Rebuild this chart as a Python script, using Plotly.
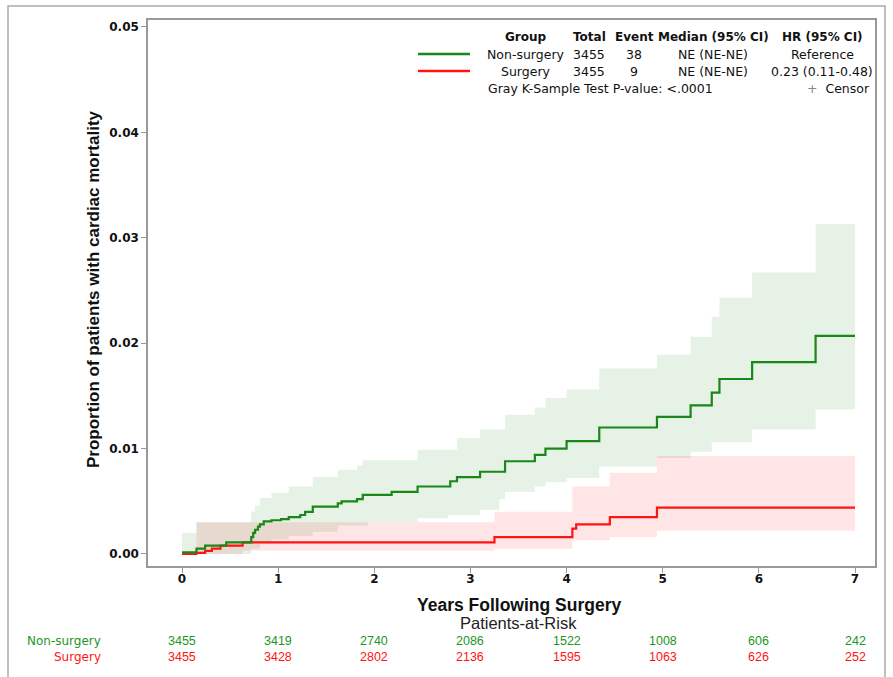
import plotly.graph_objects as go

# ---------------- data ----------------
years = [0, 1, 2, 3, 4, 5, 6, 7]
groups = ["Non-surgery", "Surgery"]
risk_nonsurg = [3455, 3419, 2740, 2086, 1522, 1008, 606, 242]
risk_surg = [3455, 3428, 2802, 2136, 1595, 1063, 626, 252]

ns_t = [0, 0.15, 0.24, 0.46, 0.72, 0.74, 0.76, 0.79, 0.81, 0.85, 0.93, 1.03, 1.11, 1.23, 1.28, 1.36,
        1.62, 1.66, 1.82, 1.88, 2.18, 2.45, 2.79, 2.86, 3.10, 3.36, 3.67, 3.78, 4.00, 4.34, 4.94,
        5.29, 5.51, 5.59, 5.93, 6.59, 7.0]
ns_cif = [0.00015, 0.0005, 0.0008, 0.0011, 0.0016, 0.0020, 0.0023, 0.0026, 0.0028, 0.0031, 0.0032,
          0.0033, 0.0035, 0.0037, 0.0040, 0.0045, 0.0048, 0.0050, 0.0052, 0.0056, 0.0059, 0.0064,
          0.0069, 0.0073, 0.0078, 0.0088, 0.0094, 0.0100, 0.0107, 0.0120, 0.0130, 0.0141, 0.0153,
          0.0166, 0.0182, 0.0207, 0.0207]

ns_up_t = [0, 0.15, 0.72, 0.76, 0.81, 0.93, 1.11, 1.36, 1.62, 1.82, 1.88, 2.45, 2.86, 3.10, 3.36,
           3.67, 3.78, 4.00, 4.34, 4.94, 5.29, 5.51, 5.59, 5.93, 6.59, 7.0]
ns_up = [0.0020, 0.0030, 0.0040, 0.0046, 0.0053, 0.0058, 0.0064, 0.0073, 0.0080, 0.0084, 0.0089,
         0.0099, 0.0110, 0.0118, 0.0132, 0.0139, 0.0148, 0.0156, 0.0176, 0.0189, 0.0206, 0.0225,
         0.0243, 0.0267, 0.0313, 0.0313]

ns_lo_t = [0, 0.72, 0.81, 0.93, 1.11, 1.36, 1.62, 1.93, 2.45, 2.77, 3.10, 3.30, 3.36, 3.67, 3.78,
           4.00, 4.34, 4.94, 5.29, 5.51, 5.93, 6.59, 7.0]
ns_lo = [0.0, 0.0005, 0.0010, 0.0014, 0.0017, 0.0021, 0.0027, 0.0030, 0.0034, 0.0037, 0.0042,
         0.0052, 0.0059, 0.0064, 0.0068, 0.0072, 0.0083, 0.0091, 0.0097, 0.0106, 0.0118, 0.0137,
         0.0137]

s_t = [0, 0.15, 0.24, 0.31, 0.40, 0.63, 3.25, 4.06, 4.10, 4.45, 4.94, 7.0]
s_cif = [0.0, 0.0001, 0.0003, 0.0005, 0.0008, 0.0011, 0.0016, 0.0024, 0.0028, 0.0035, 0.0044, 0.0044]

s_up_t = [0.15, 3.25, 4.06, 4.45, 4.94, 7.0]
s_up = [0.0030, 0.0040, 0.0064, 0.0077, 0.0093, 0.0093]
s_lo_t = [0.15, 0.63, 3.25, 4.06, 4.45, 4.94, 7.0]
s_lo = [0.0, 0.0003, 0.0005, 0.0013, 0.0016, 0.0022, 0.0022]

# ---------------- styles ----------------
GREEN = "rgb(25,135,25)"
RED = "rgb(255,20,20)"
GREEN_TXT = "rgb(30,150,30)"
GREEN_FILL = "rgba(0,128,0,0.10)"
RED_FILL = "rgba(255,0,0,0.10)"
SANS = "Liberation Sans, Arial, sans-serif"
WIDE = "DejaVu Sans, Verdana, sans-serif"

fig = go.Figure()

def band(tl, lo, tu, up, fill):
    fig.add_trace(go.Scatter(x=tl, y=lo, mode="lines", line=dict(width=0, shape="hv"),
                             hoverinfo="skip", showlegend=False))
    fig.add_trace(go.Scatter(x=tu, y=up, mode="lines", line=dict(width=0, shape="hv"),
                             fill="tonexty", fillcolor=fill, hoverinfo="skip", showlegend=False))

band(ns_lo_t, ns_lo, ns_up_t, ns_up, GREEN_FILL)
band(s_lo_t, s_lo, s_up_t, s_up, RED_FILL)

fig.add_trace(go.Scatter(x=s_t, y=s_cif, mode="lines", line=dict(color=RED, width=2.2, shape="hv"),
                         name=groups[1], showlegend=False))
fig.add_trace(go.Scatter(x=ns_t, y=ns_cif, mode="lines", line=dict(color=GREEN, width=2.2, shape="hv"),
                         name=groups[0], showlegend=False))

# ---------------- layout ----------------
W, H = 893, 677
L, R, T, B = 148, 875, 20, 566
pw, ph = R - L, B - T

def px(xp):
    return (xp - L) / pw

def py(yp):
    return (B - yp) / ph

ann = []
# Legend table
hdr_y = 37
cols = [(526, "Group"), (589, "Total"), (634, "Event"), (713, "Median (95% CI)"), (822, "HR (95% CI)")]
for x, t in cols:
    ann.append(dict(x=px(x), y=py(hdr_y), text="<b>%s</b>" % t, xanchor="center", yanchor="middle",
                    font=dict(size=12, color="#111", family=WIDE)))
rows = [
    (54, ["Non-surgery", "3455", "38", "NE (NE-NE)", "Reference"]),
    (71, ["Surgery", "3455", "9", "NE (NE-NE)", "0.23 (0.11-0.48)"]),
]
for yv, vals in rows:
    for (x, _), t in zip(cols, vals):
        ann.append(dict(x=px(x), y=py(yv), text=t, xanchor="center", yanchor="middle",
                        font=dict(size=12.5, color="#111", family=WIDE)))
ann.append(dict(x=px(486), y=py(88), text="Gray K-Sample Test P-value: <.0001", xanchor="left",
                yanchor="middle", font=dict(size=12.5, color="#111", family=WIDE)))
ann.append(dict(x=px(872), y=py(88), text="<span style='color:#888'>+</span>  Censor", xanchor="right",
                yanchor="middle", font=dict(size=12.5, color="#111", family=WIDE)))

# Axis titles / risk table
ann.append(dict(x=3.5, xref="x", y=py(605), text="<b>Years Following Surgery</b>", xanchor="center",
                yanchor="middle", font=dict(size=17.5, color="#111", family=SANS)))
ann.append(dict(x=3.5, xref="x", y=py(623), text="Patients-at-Risk", xanchor="center",
                yanchor="middle", font=dict(size=16.5, color="#222", family=SANS)))
for yr, n1, n2 in zip(years, risk_nonsurg, risk_surg):
    ann.append(dict(x=yr, xref="x", y=py(641), text=str(n1), xanchor="center", yanchor="middle",
                    font=dict(size=12.5, color=GREEN_TXT, family=SANS)))
    ann.append(dict(x=yr, xref="x", y=py(657), text=str(n2), xanchor="center", yanchor="middle",
                    font=dict(size=12.5, color=RED, family=SANS)))
ann.append(dict(x=px(103), y=py(641), text=groups[0], xanchor="right", yanchor="middle",
                font=dict(size=12, color=GREEN_TXT, family=WIDE)))
ann.append(dict(x=px(103), y=py(657), text=groups[1], xanchor="right", yanchor="middle",
                font=dict(size=12, color=RED, family=WIDE)))
ann.append(dict(x=px(93), y=py(289), text="<b>Proportion of patients with cardiac mortality</b>",
                textangle=-90, xanchor="center", yanchor="middle",
                font=dict(size=17, color="#111", family=SANS)))
for a in ann:
    a.setdefault("xref", "paper")
    a.setdefault("yref", "paper")
    a["showarrow"] = False

shapes = [
    dict(type="line", xref="paper", yref="paper", x0=px(418), x1=px(470), y0=py(54), y1=py(54),
         line=dict(color=GREEN, width=2.5)),
    dict(type="line", xref="paper", yref="paper", x0=px(418), x1=px(470), y0=py(71), y1=py(71),
         line=dict(color=RED, width=2.5)),
    dict(type="rect", xref="paper", yref="paper", x0=px(8), x1=px(885), y0=py(6), y1=py(700),
         line=dict(color="#aaaaaa", width=1.5), layer="below"),
]

tickfont = dict(size=12, color="#111", family=WIDE)
fig.update_layout(
    width=W, height=H,
    margin=dict(l=L, r=W - R, t=T, b=H - B),
    plot_bgcolor="white", paper_bgcolor="white",
    font=dict(family=SANS, size=11, color="#111"),
    annotations=ann, shapes=shapes,
    xaxis=dict(range=[-0.354, 7.208], tickvals=years, ticktext=["<b>%d</b>" % v for v in years],
               showgrid=False, zeroline=False, showline=True, linecolor="#999", linewidth=1.5,
               mirror=True, ticks="outside", ticklen=5, tickcolor="#999", tickfont=tickfont,
               ticklabelstandoff=-4),
    yaxis=dict(range=[-0.00114, 0.05066], tickvals=[0, 0.01, 0.02, 0.03, 0.04, 0.05],
               ticktext=["<b>%.2f</b>" % v for v in [0, 0.01, 0.02, 0.03, 0.04, 0.05]],
               showgrid=False, zeroline=False, showline=True, linecolor="#999", linewidth=1.5,
               mirror=True, ticks="outside", ticklen=5, tickcolor="#999", tickfont=tickfont),
)

fig.write_html("out.html", config={"displayModeBar": False},
               post_script="document.body.style.margin='0px';")
